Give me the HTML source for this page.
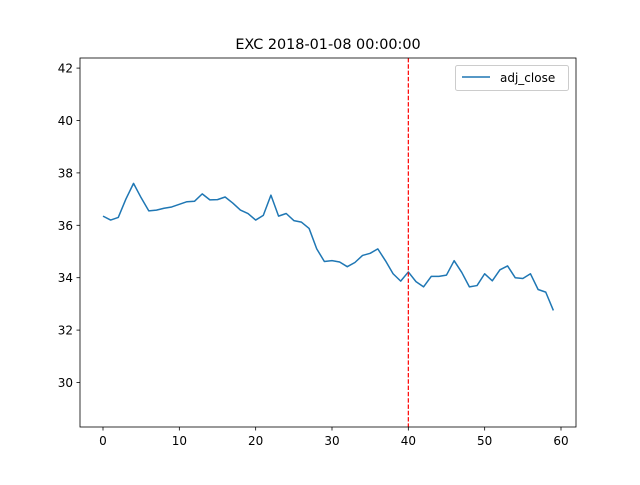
<!DOCTYPE html>
<html><head><meta charset="utf-8"><style>
body{margin:0;background:#fff}
svg text{font-family:"DejaVu Sans","Liberation Sans",sans-serif;fill:#000}
</style></head><body>
<svg id="chart" width="640" height="480">
<rect width="640" height="480" fill="#fff"/>
<text x="328" y="49" font-size="14.4" text-anchor="middle">EXC 2018-01-08 00:00:00</text>
<g id="ticks"></g>
<path id="line" fill="none" stroke="#1f77b4" stroke-width="1.5" stroke-linejoin="round"/>
<line id="vline" stroke="red" stroke-width="1.2" stroke-dasharray="4.4,1.9"/>
<rect x="80" y="58" width="496" height="369" fill="none" stroke="#000" stroke-width="0.8"/>
<g>
<rect x="455.5" y="65.5" width="113" height="25" rx="2" fill="#fff" stroke="#ccc" stroke-width="1"/>
<line x1="462" y1="77" x2="490" y2="77" stroke="#1f77b4" stroke-width="1.5"/>
<text x="500" y="82" font-size="12">adj_close</text>
</g>
</svg>
<script>
const xValues=[...Array(60).keys()];
const adjClose=[36.35,36.2,36.3,37.0,37.6,37.05,36.55,36.58,36.65,36.7,36.8,36.9,36.92,37.2,36.97,36.98,37.08,36.85,36.58,36.45,36.2,36.38,37.15,36.35,36.45,36.18,36.12,35.88,35.1,34.62,34.65,34.6,34.42,34.58,34.85,34.93,35.1,34.65,34.15,33.87,34.22,33.85,33.65,34.05,34.05,34.1,34.65,34.2,33.65,33.7,34.15,33.88,34.3,34.45,34.0,33.97,34.15,33.55,33.45,32.75];
const xTicks=[0,10,20,30,40,50,60];
const yTicks=[30,32,34,36,38,40,42];
const markerX=40;
const X=v=>103+v*(561-103)/60;
const Y=v=>382.5-(v-30)*26.2;
const ns="http://www.w3.org/2000/svg";
const g=document.getElementById('ticks');
function el(t,a){const e=document.createElementNS(ns,t);for(const k in a)e.setAttribute(k,a[k]);g.appendChild(e);return e;}
xTicks.forEach(t=>{
 const l=el('line',{x1:X(t),x2:X(t),y1:427,y2:430.5,stroke:'#000','stroke-width':0.8});
 
 
 const tx=el('text',{x:X(t),y:445,'font-size':12,'text-anchor':'middle'});tx.textContent=t;
 
 
});
yTicks.forEach(t=>{
 const l=el('line',{x1:76.5,x2:80,y1:Y(t),y2:Y(t),stroke:'#000','stroke-width':0.8});
 
 
 const tx=el('text',{x:73,y:Y(t)+4.5,'font-size':12,'text-anchor':'end'});tx.textContent=t;
 
 
});
document.getElementById('line').setAttribute('d',adjClose.map((v,i)=>(i?'L':'M')+X(xValues[i]).toFixed(2)+','+Y(v).toFixed(2)).join(''));
const vl=document.getElementById('vline');
vl.setAttribute('x1',X(markerX));vl.setAttribute('x2',X(markerX));vl.setAttribute('y1',58);vl.setAttribute('y2',427);
</script>
</body></html>
